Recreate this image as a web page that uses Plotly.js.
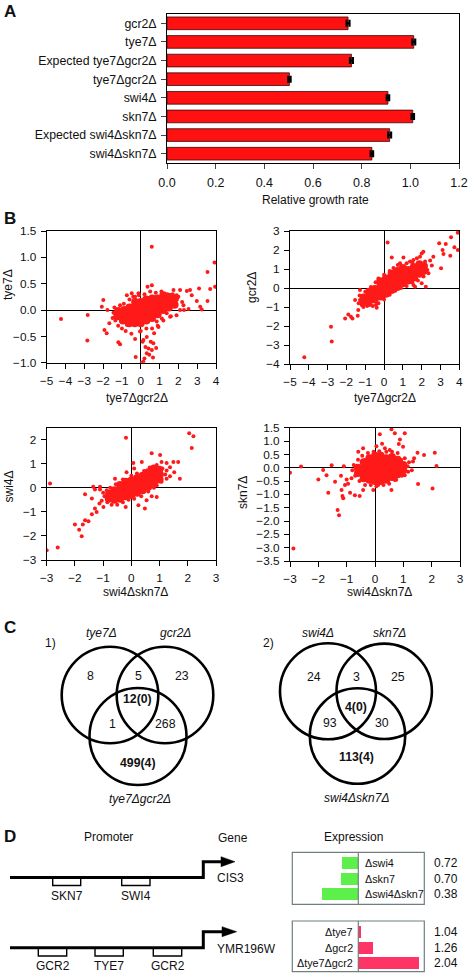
<!DOCTYPE html>
<html><head><meta charset="utf-8">
<script src="https://cdn.plot.ly/plotly-3.0.1.min.js"></script>
<style>html,body{margin:0;padding:0;background:#fff}#chart{width:470px;height:974px}</style>
</head><body><div id="chart"></div>
<script>
// ---------- Panel A data ----------
const growthLabels = ['gcr2Δ','tye7Δ','Expected tye7Δgcr2Δ','tye7Δgcr2Δ','swi4Δ','skn7Δ','Expected swi4Δskn7Δ','swi4Δskn7Δ'];
const growthRates  = [0.744, 1.014, 0.758, 0.503, 0.908, 1.010, 0.915, 0.842];
const growthErrors = [0.006, 0.006, 0.006, 0.005, 0.005, 0.005, 0.006, 0.005];

// ---------- Panel B data (x = double mutant, y = single mutant) ----------
const s1Points = [[-4.24,-0.17],[-2.82,-0.095],[-2.84,-0.58],[0.585,1.20],[3.92,0.90],[3.55,0.72],[3.95,0.44],[3.69,0.40],[3.55,0.17],[3.10,0.41],[-1.99,0.19],[-2.07,0.06],[-1.77,0.0],[-1.93,-0.38],[-1.81,-0.44],[-1.67,-0.25],[-1.1,-0.65],[-1.19,-0.61],[-0.27,-0.89],[0.14,-0.98],[0.05,-1.0],[0.195,-0.92],[0.32,-0.82],[0.41,-0.73],[0.59,-0.76],[0.67,-0.63],[0.53,-0.60],[0.82,-0.72],[0.71,-0.44],[0.32,-0.51],[0.14,-0.57],[-0.04,-0.41],[0.59,0.47],[2.98,0.17],[3.16,0.06],[3.24,0.01],[2.71,0.28],[2.54,0.02],[2.27,0.09],[2.09,0.0],[1.91,0.28],[1.74,0.38],[2.09,0.38],[2.45,0.36],[2.62,0.38],[1.47,0.22],[1.38,-0.06],[1.12,-0.16],[1.56,-0.13],[0.85,-0.22],[0.94,-0.32],[-0.74,-0.28],[-0.92,-0.16],[-1.28,-0.09],[-1.1,0.09],[-0.74,0.28],[-0.48,0.32],[-0.3,0.25],[-0.12,0.32],[-1.45,-0.05],[-1.35,-0.2],[-1.4,0.05],[-1.5,-0.15],[-1.2,-0.3],[-1.0,-0.35],[-0.8,-0.4],[-0.5,-0.45],[-0.3,-0.55],[-0.6,0.2],[-0.4,0.25],[-0.1,0.28],[0.2,0.3],[0.5,0.35],[0.8,0.33],[1.1,0.35],[1.4,0.3],[1.7,0.3],[2.0,0.25],[2.2,0.15],[2.3,0.0],[1.9,-0.1],[1.6,-0.12],[1.2,-0.2],[0.9,-0.3],[0.6,-0.35],[0.3,-0.35],[0.0,-0.4],[0.1,-0.6],[0.25,-0.7],[0.45,-0.85],[0.65,-0.9],[0.36,0.44],[-0.9,0.12]];
const s1Dense = [[-1.25,-0.12],[-1.2,-0.02],[-0.95,-0.2],[-0.9,-0.1],[-0.88,0.0],[-0.62,-0.25],[-0.6,-0.15],[-0.58,-0.05],[-0.6,0.05],[-0.32,-0.25],[-0.3,-0.15],[-0.28,-0.05],[-0.31,0.05],[-0.3,0.15],[0.0,-0.25],[0.02,-0.15],[-0.02,-0.05],[0.01,0.05],[0.0,0.15],[0.3,-0.2],[0.28,-0.1],[0.32,0.0],[0.3,0.1],[0.29,0.2],[0.6,-0.15],[0.62,-0.05],[0.58,0.05],[0.6,0.15],[0.61,0.22],[0.9,-0.08],[0.92,0.02],[0.88,0.12],[0.9,0.22],[1.2,0.0],[1.22,0.1],[1.18,0.2],[1.2,0.28],[1.5,0.05],[1.52,0.15],[1.48,0.25],[1.8,0.1],[1.82,0.22]];

const s2Points = [[-4.24,-3.65],[-2.78,-2.82],[-2.82,-2.04],[0.19,2.40],[0.41,1.60],[1.03,1.60],[3.92,2.91],[3.56,2.67],[3.28,2.32],[2.93,2.35],[3.11,2.0],[3.16,1.79],[3.52,1.70],[3.92,2.0],[3.74,2.14],[3.03,1.04],[2.62,1.65],[2.54,1.18],[2.36,0.77],[2.22,0.07],[2.0,0.25],[1.65,0.07],[1.56,0.16],[-2.07,-1.6],[-1.9,-1.39],[-1.76,-1.51],[-1.68,-1.6],[-1.4,-1.46],[-1.37,-1.16],[-1.28,-0.63],[-1.28,-0.11],[-1.54,-0.63],[-1.19,-0.89],[-0.43,-0.89],[-0.39,-1.04],[0.59,0.6],[0.85,0.25],[2.18,1.39],[1.91,1.65],[2.09,1.91],[2.0,1.82],[1.74,1.56],[1.56,1.47],[1.38,1.39],[0.94,1.12],[0.73,1.21],[1.08,0.25],[1.29,0.42],[-1.35,-0.8],[-1.1,-1.0],[-0.9,-0.95],[-0.75,-0.9],[-1.3,-0.4],[-1.0,-0.2],[-0.7,0.05],[-0.45,0.3],[-0.3,0.5],[0.0,0.7],[0.3,0.9],[0.5,1.05],[0.85,1.3],[1.2,1.3],[1.5,1.35],[2.2,1.2],[2.3,0.95],[2.1,0.6],[1.8,0.4],[1.5,0.3],[1.2,0.1],[0.9,0.0],[0.6,-0.15],[0.3,-0.35],[0.0,-0.6],[-0.3,-0.8],[-0.6,-0.95],[2.45,1.45],[1.05,0.8]];
const s2Dense = [[-1.1,-0.75],[-1.08,-0.5],[-0.8,-0.7],[-0.82,-0.45],[-0.79,-0.2],[-0.5,-0.6],[-0.52,-0.3],[-0.49,-0.05],[-0.2,-0.45],[-0.21,-0.15],[-0.19,0.15],[-0.2,0.35],[0.1,-0.3],[0.12,0.0],[0.09,0.3],[0.1,0.5],[0.4,-0.1],[0.41,0.2],[0.38,0.5],[0.4,0.75],[0.7,0.05],[0.72,0.35],[0.69,0.65],[0.7,0.9],[1.0,0.25],[1.02,0.5],[0.98,0.8],[1.0,1.05],[1.3,0.4],[1.31,0.7],[1.29,0.95],[1.6,0.55],[1.62,0.85],[1.58,1.1],[1.9,0.75],[1.9,1.0],[1.88,1.25],[2.1,0.9],[2.12,1.15]];

const s3Points = [[-3.0,-2.59],[-2.61,-2.48],[-2.88,0.18],[-0.19,2.08],[2.05,2.27],[2.2,2.14],[2.14,1.66],[-2.0,-1.52],[-1.85,-1.74],[-1.76,-2.01],[-1.72,-1.52],[-1.64,-1.35],[-1.52,-1.39],[-1.64,-0.27],[-1.4,-0.44],[-1.35,0.04],[-1.29,-0.07],[-1.11,0.04],[-1.11,-0.07],[-1.4,-1.1],[-1.29,-0.86],[-1.23,-1.0],[-1.13,-0.65],[-1.05,-0.54],[-0.99,-0.8],[-0.17,0.65],[0.07,1.03],[0.37,1.07],[0.72,1.44],[1.02,1.37],[1.07,1.07],[1.25,1.03],[1.49,1.07],[1.66,1.07],[1.72,0.38],[1.52,0.65],[1.37,0.48],[1.25,0.38],[0.9,0.11],[1.07,0.25],[0.9,-0.38],[0.72,-0.35],[0.54,-0.52],[0.48,-0.86],[0.25,-0.72],[1.25,0.72],[1.37,0.86],[-0.58,0.38],[-0.87,-0.1],[-0.95,-0.35],[-0.85,-0.6],[-0.7,-0.7],[-0.5,-0.7],[-0.3,-0.6],[-0.1,-0.5],[0.1,-0.45],[0.35,-0.35],[0.6,-0.15],[0.8,0.0],[1.05,0.45],[1.1,0.8],[0.9,0.95],[0.65,0.85],[0.45,0.7],[0.2,0.6],[0.0,0.5],[-0.3,0.35],[-0.55,0.15],[-0.75,0.0],[-1.0,-0.2],[1.2,0.55],[-0.2,-0.8],[0.1,0.8]];
const s3Dense = [[-0.8,-0.45],[-0.79,-0.25],[-0.6,-0.5],[-0.61,-0.3],[-0.6,-0.1],[-0.4,-0.45],[-0.41,-0.25],[-0.39,-0.05],[-0.4,0.12],[-0.2,-0.35],[-0.21,-0.15],[-0.19,0.05],[-0.2,0.25],[0.0,-0.3],[0.01,-0.1],[-0.01,0.1],[0.0,0.3],[0.2,-0.2],[0.21,0.0],[0.19,0.2],[0.2,0.4],[0.4,-0.1],[0.41,0.1],[0.39,0.3],[0.4,0.5],[0.6,0.05],[0.61,0.25],[0.59,0.45],[0.6,0.65],[0.8,0.2],[0.81,0.4],[0.79,0.6],[0.8,0.8],[1.0,0.35],[1.01,0.55],[0.99,0.75]];

const s4Points = [[-2.88,-3.03],[-3.0,-0.19],[-2.61,0.04],[-2.0,-0.44],[-1.83,-0.09],[-1.71,-0.28],[-1.65,-0.94],[-1.53,0.09],[-1.41,-0.53],[-1.18,-0.84],[-1.15,-1.06],[-1.12,-1.15],[-1.32,-1.59],[-1.27,-1.78],[-1.06,-0.65],[-1.0,-0.44],[-0.88,-0.94],[-0.83,-0.4],[-0.71,-1.03],[0.58,1.44],[0.7,1.29],[0.17,1.25],[1.05,1.29],[0.88,1.06],[0.84,0.89],[0.99,0.79],[1.5,0.56],[1.73,0.48],[1.38,0.35],[1.34,0.23],[2.11,0.56],[2.17,0.06],[2.03,-0.78],[1.52,-0.61],[0.7,-0.46],[0.58,-0.84],[0.11,-0.65],[-0.06,-0.84],[-0.42,-0.84],[-0.54,-1.06],[1.17,-0.15],[1.05,-0.28],[0.93,0.29],[-0.42,0.73],[-0.59,0.6],[-0.36,0.29],[0.35,0.73],[0.52,0.66],[-0.8,-0.1],[-0.75,0.1],[-0.7,-0.3],[-0.6,0.3],[-0.55,-0.5],[-0.35,-0.65],[-0.15,-0.65],[0.05,-0.7],[0.3,-0.65],[0.5,-0.6],[0.75,-0.45],[0.95,-0.3],[1.15,0.05],[1.2,0.2],[1.05,0.35],[0.8,0.55],[0.6,0.6],[0.4,0.6],[0.15,0.62],[-0.05,0.6],[-0.25,0.55],[-0.45,0.45],[-1.2,-0.3],[-1.1,0.05],[-0.95,-0.6],[1.3,-0.1],[0.25,0.9],[0.05,0.8]];
const s4Dense = [[-0.6,-0.2],[-0.61,0.0],[-0.4,-0.4],[-0.41,-0.2],[-0.39,0.0],[-0.4,0.2],[-0.2,-0.45],[-0.21,-0.25],[-0.19,-0.05],[-0.2,0.15],[-0.2,0.35],[0.0,-0.5],[0.01,-0.3],[-0.01,-0.1],[0.0,0.1],[0.01,0.3],[0.0,0.45],[0.2,-0.5],[0.21,-0.3],[0.19,-0.1],[0.2,0.1],[0.21,0.3],[0.2,0.45],[0.4,-0.45],[0.41,-0.25],[0.39,-0.05],[0.4,0.15],[0.4,0.35],[0.6,-0.35],[0.61,-0.15],[0.59,0.05],[0.6,0.25],[0.6,0.4],[0.8,-0.25],[0.81,-0.05],[0.79,0.15],[0.8,0.3],[1.0,-0.1],[1.0,0.1]];

// ---------- Panel C data ----------
const venn1Sets = ['tye7Δ','gcr2Δ','tye7Δgcr2Δ'];
const venn1Counts = ['8','5','23','12(0)','1','268','499(4)'];
const venn2Sets = ['swi4Δ','skn7Δ','swi4Δskn7Δ'];
const venn2Counts = ['24','3','25','4(0)','93','30','113(4)'];

// ---------- Panel D data ----------
const cis3Sites = ['SKN7','SWI4'];
const ymrSites = ['GCR2','TYE7','GCR2'];
const cis3Labels = ['Δswi4','Δskn7','Δswi4Δskn7'];
const cis3Values = [0.72, 0.70, 0.38];
const ymrLabels = ['Δtye7','Δgcr2','Δtye7Δgcr2'];
const ymrValues = [1.04, 1.26, 2.04];

// ---------- helpers ----------
const W = 470, H = 974;
const px = x => x / W;
const py = y => 1 - y / H;
const FONT = 'Liberation Sans, Arial, Helvetica, sans-serif';
const RED = '#ff1a1a';

function ann(text, x, y, o) {
  o = o || {};
  return Object.assign({
    text: text, x: px(x), y: py(y), xref: 'paper', yref: 'paper',
    showarrow: false, xanchor: 'center', yanchor: 'middle',
    font: {family: FONT, size: o.size || 12, color: '#111'}
  }, o.extra || {});
}

const traces = [];
// Panel A bars
traces.push({
  type: 'bar', orientation: 'h', x: growthRates, y: growthLabels,
  xaxis: 'x', yaxis: 'y', width: 0.68,
  marker: {color: '#ff1111', line: {color: '#3a0a0a', width: 0.8}},
  error_x: {type: 'data', array: growthErrors, visible: true, color: '#000', thickness: 2.2, width: 3.5},
  hoverinfo: 'skip'
});

// Panel B scatters
const sets = [[s1Points, s1Dense, 'x2', 'y2'], [s2Points, s2Dense, 'x3', 'y3'], [s3Points, s3Dense, 'x4', 'y4'], [s4Points, s4Dense, 'x5', 'y5']];
sets.forEach(([pts, dense, xa, ya]) => {
  traces.push({type: 'scatter', mode: 'markers', x: dense.map(p => p[0]), y: dense.map(p => p[1]),
    xaxis: xa, yaxis: ya, marker: {color: RED, size: 8}, hoverinfo: 'skip', cliponaxis: true});
  traces.push({type: 'scatter', mode: 'markers', x: pts.map(p => p[0]), y: pts.map(p => p[1]),
    xaxis: xa, yaxis: ya, marker: {color: RED, size: 4}, hoverinfo: 'skip', cliponaxis: true});
});

// Panel D expression bars
traces.push({type: 'bar', orientation: 'h', x: cis3Values.map(v => v - 1), y: cis3Labels,
  xaxis: 'x6', yaxis: 'y6', width: 0.76, marker: {color: '#5ef04a', line: {width: 0}}, hoverinfo: 'skip'});
traces.push({type: 'bar', orientation: 'h', x: ymrValues.map(v => v - 1), y: ymrLabels,
  xaxis: 'x7', yaxis: 'y7', width: 0.76, marker: {color: '#ff3366', line: {width: 0}}, hoverinfo: 'skip'});

const tickF = {family: FONT, size: 11.8, color: '#111'};
function sAxis(dom, range, dtick, fmt, anchor) {
  return {domain: dom, range: range, dtick: dtick, tick0: 0, tickformat: fmt, anchor: anchor,
    showline: true, mirror: true, linecolor: '#000', linewidth: 1, ticks: 'outside', ticklen: 5,
    tickcolor: '#000', showgrid: false, zeroline: true, zerolinecolor: '#000', zerolinewidth: 1,
    tickfont: tickF, fixedrange: true, ticklabelstandoff: 2};
}

const layout = {
  width: W, height: H, margin: {l: 0, r: 0, t: 0, b: 0},
  paper_bgcolor: '#fff', plot_bgcolor: 'rgba(0,0,0,0)', showlegend: false,
  font: {family: FONT},
  bargap: 0,
  xaxis: {domain: [px(167), px(459)], range: [0, 1.2], dtick: 0.2, tickformat: '.1f', anchor: 'y',
    showline: true, mirror: true, linecolor: '#000', ticks: 'outside', ticklen: 5, showgrid: false,
    zeroline: false, tickfont: {family: FONT, size: 12.5, color: '#111'}, ticklabelstandoff: 3},
  yaxis: {domain: [py(163), py(14)], type: 'category', autorange: 'reversed', anchor: 'x',
    showline: true, mirror: true, linecolor: '#000', ticks: 'outside', ticklen: 5, showgrid: false,
    tickfont: {family: FONT, size: 12.3, color: '#111'}, ticklabelstandoff: 2},
  xaxis2: sAxis([px(46.7), px(216)], [-5, 4], 1, 'd', 'y2'),
  yaxis2: sAxis([py(362.7), py(231)], [-1, 1.5], 0.5, '.1f', 'x2'),
  xaxis3: sAxis([px(290), px(459.3)], [-5, 4], 1, 'd', 'y3'),
  yaxis3: sAxis([py(364), py(231)], [-4, 3], 1, 'd', 'x3'),
  xaxis4: sAxis([px(46.7), px(216)], [-3, 3], 1, 'd', 'y4'),
  yaxis4: sAxis([py(560), py(427.7)], [-3, 2.5], 1, 'd', 'x4'),
  xaxis5: sAxis([px(290), px(460)], [-3, 3], 1, 'd', 'y5'),
  yaxis5: sAxis([py(561), py(427.7)], [-3.5, 1.5], 0.5, '.1f', 'x5'),
  xaxis6: {domain: [px(292.3), px(424.3)], range: [-1.138, 1.138], visible: false, anchor: 'y6', fixedrange: true},
  yaxis6: {domain: [py(902), py(855.5)], type: 'category', autorange: 'reversed', visible: false, anchor: 'x6'},
  xaxis7: {domain: [px(292.3), px(424.3)], range: [-1.138, 1.138], visible: false, anchor: 'y7', fixedrange: true},
  yaxis7: {domain: [py(971.1), py(924.6)], type: 'category', autorange: 'reversed', visible: false, anchor: 'x7'},
  shapes: [], annotations: []
};

const S = layout.shapes, A = layout.annotations;
function circle(cx, cy, r) {
  S.push({type: 'circle', xref: 'paper', yref: 'paper', x0: px(cx - r), x1: px(cx + r), y0: py(cy + r), y1: py(cy - r),
    line: {color: '#000', width: 2.6}, fillcolor: 'rgba(0,0,0,0)'});
}
function rect(x0, y0, x1, y1, color, width, fill) {
  S.push({type: 'rect', xref: 'paper', yref: 'paper', x0: px(x0), x1: px(x1), y0: py(y1), y1: py(y0),
    line: {color: color, width: width}, fillcolor: fill || 'rgba(0,0,0,0)', layer: 'above'});
}
function path(pts, close, lineW, fill) {
  let d = pts.map((p, i) => (i ? 'L' : 'M') + px(p[0]) + ',' + py(p[1])).join(' ') + (close ? ' Z' : '');
  S.push({type: 'path', xref: 'paper', yref: 'paper', path: d, line: {color: '#000', width: lineW},
    fillcolor: fill || 'rgba(0,0,0,0)', layer: 'above'});
}

// Panel letters
[['A', 11.5], ['B', 218.5], ['C', 627], ['D', 836]].forEach(([t, y]) =>
  A.push(ann('<b>' + t + '</b>', 2, y, {size: 17, extra: {xanchor: 'left'}})));

// Panel A title
A.push(ann('Relative growth rate', 315, 200));

// Panel B axis titles
A.push(ann('tye7Δgcr2Δ', 137, 398));
A.push(ann('tye7Δgcr2Δ', 385, 398));
A.push(ann('swi4Δskn7Δ', 135, 591.7));
A.push(ann('swi4Δskn7Δ', 379, 591.7));
A.push(ann('tye7Δ', 8, 285, {extra: {textangle: -90}}));
A.push(ann('gcr2Δ', 252, 288, {extra: {textangle: -90}}));
A.push(ann('swi4Δ', 8.5, 487, {extra: {textangle: -90}}));
A.push(ann('skn7Δ', 243, 493, {extra: {textangle: -90}}));

// Panel C Venn diagrams
circle(110, 695, 48.3); circle(165, 695, 48.3); circle(138, 736.5, 48.5);
circle(328, 691.3, 48); circle(384.2, 691.3, 47.7); circle(357.5, 736, 47.7);
A.push(ann('<i>' + venn1Sets[0] + '</i>', 101.7, 632.7));
A.push(ann('<i>' + venn1Sets[1] + '</i>', 175.7, 632.7));
A.push(ann('<i>' + venn1Sets[2] + '</i>', 140, 799.3));
A.push(ann('1)', 50.7, 642.7));
const v1Pos = [[90, 676], [138, 676], [181.7, 676], [137.3, 699.3], [112.3, 724], [165.7, 724], [138.3, 762.7]];
venn1Counts.forEach((c, i) => A.push(ann((i === 3 || i === 6) ? '<b>' + c + '</b>' : c, v1Pos[i][0], v1Pos[i][1], {size: 12.3})));
A.push(ann('<i>' + venn2Sets[0] + '</i>', 317.7, 632.7));
A.push(ann('<i>' + venn2Sets[1] + '</i>', 389.3, 632.7));
A.push(ann('<i>' + venn2Sets[2] + '</i>', 356.7, 798.3));
A.push(ann('2)', 268.3, 642.7));
const v2Pos = [[314.3, 676.7], [356.7, 676.7], [397.7, 676.7], [355.7, 706.7], [330, 723.3], [381.7, 723.3], [356.7, 756.7]];
venn2Counts.forEach((c, i) => A.push(ann((i === 3 || i === 6) ? '<b>' + c + '</b>' : c, v2Pos[i][0], v2Pos[i][1], {size: 12.3})));

// Panel D promoter diagrams
A.push(ann('Promoter', 108.3, 837.3));
A.push(ann('Gene', 233.3, 838.3));
A.push(ann('Expression', 353.3, 836.7));
const cis3Box = [[52.7, 80.7], [121.7, 150]];
cis3Box.forEach((b, i) => { rect(b[0], 878.3, b[1], 885.5, '#000', 1.4, '#fff'); A.push(ann(cis3Sites[i], (b[0] + b[1]) / 2, 896)); });
const ymrBox = [[38.3, 66.7], [95, 123.3], [153.3, 181.7]];
ymrBox.forEach((b, i) => { rect(b[0], 948.3, b[1], 956, '#000', 1.4, '#fff'); A.push(ann(ymrSites[i], (b[0] + b[1]) / 2, 966)); });
path([[10, 877.5], [203.3, 877.5], [203.3, 861.7], [222, 861.7]], false, 3);
path([[221, 856.7], [235, 861.7], [221, 866.7]], true, 0.5, '#000');
path([[10, 947.8], [203.3, 947.8], [203.3, 931.7], [223, 931.7]], false, 3);
path([[222, 926.7], [236.7, 931.7], [222, 936.7]], true, 0.5, '#000');
A.push(ann('CIS3', 215, 878.3, {extra: {xanchor: 'left'}}));
A.push(ann('YMR196W', 215, 949.3, {extra: {xanchor: 'left'}}));

// Expression boxes
const BOX = '#6f7f7f';
rect(292.3, 852.3, 424.3, 904.3, BOX, 1.2);
rect(292.3, 921, 424.3, 971.7, BOX, 1.2);
S.push({type: 'line', xref: 'paper', yref: 'paper', x0: px(358.3), x1: px(358.3), y0: py(852.3), y1: py(904.3), line: {color: BOX, width: 1.2}, layer: 'above'});
S.push({type: 'line', xref: 'paper', yref: 'paper', x0: px(358.3), x1: px(358.3), y0: py(921), y1: py(971.7), line: {color: BOX, width: 1.2}, layer: 'above'});
const cisRows = [863.3, 879, 894.3], ymrRows = [932.3, 948, 963.3];
cis3Labels.forEach((l, i) => {
  A.push(ann(l, 363, cisRows[i], {size: 10.8, extra: {xanchor: 'left'}}));
  A.push(ann(cis3Values[i].toFixed(2), 431.5, cisRows[i], {size: 12, extra: {xanchor: 'left'}}));
});
ymrLabels.forEach((l, i) => {
  A.push(ann(l, 355, ymrRows[i], {size: 10.8, extra: {xanchor: 'right'}}));
  A.push(ann(ymrValues[i].toFixed(2), 431.5, ymrRows[i], {size: 12, extra: {xanchor: 'left'}}));
});

Plotly.newPlot('chart', traces, layout, {staticPlot: true, displayModeBar: false});
</script>
</body></html>
